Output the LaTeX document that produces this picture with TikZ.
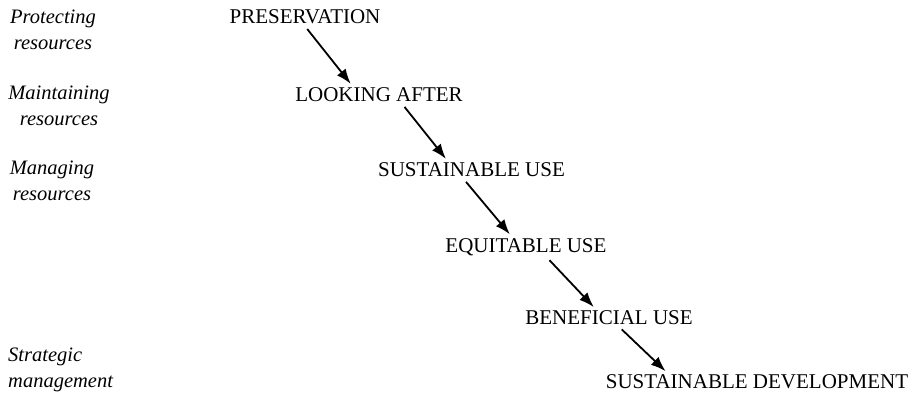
\documentclass[tikz,border=0pt]{standalone}
\usepackage{fontspec}
\setmainfont{Liberation Serif}
\usetikzlibrary{positioning,arrows.meta,calc}

\begin{document}
\begin{tikzpicture}[x=1pt, y=-1pt,
  stage/.style={inner sep=0pt, font=\fontsize{21}{25.5}\selectfont},
  level/.style={inner sep=0pt, font=\fontsize{20.5}{25.5}\selectfont\itshape},
  flow/.style={-{Latex[length=15pt,width=11pt]}, line width=1.8pt,
               shorten <=6pt, shorten >=5pt}
]
\useasboundingbox (0,0) rectangle (911,407);

\node[stage] (pres)   at (305,17)   {PRESERVATION};
\node[stage] (look)   at (379,95)   {LOOKING AFTER};
\node[stage] (sususe) at (471.5,170) {SUSTAINABLE USE};
\node[stage] (equ)    at (526,247)  {EQUITABLE USE};
\node[stage] (ben)    at (609,318)  {BENEFICIAL USE};
\node[stage] (susdev) at (757,382)  {SUSTAINABLE DEVELOPMENT};

\node[level, align=center] (prot)  at (53,30)  {Protecting\\resources};
\node[level, align=center] (maint) at (59,106) {Maintaining\\resources};
\node[level, align=center] (manag) at (52,181) {Managing\\resources};
\node[level, align=left, anchor=west] (strat) at (8,370) {Strategic\\management};

\draw[flow] ($(pres.south west)!0.49!(pres.south east)$)     -- ($(look.north west)!0.35!(look.north east)$);
\draw[flow] ($(look.south west)!0.63!(look.south east)$)     -- ($(sususe.north west)!0.38!(sususe.north east)$);
\draw[flow] ($(sususe.south west)!0.45!(sususe.south east)$) -- ($(equ.north west)!0.42!(equ.north east)$);
\draw[flow] ($(equ.south west)!0.62!(equ.south east)$)       -- ($(ben.north west)!0.43!(ben.north east)$);
\draw[flow] ($(ben.south west)!0.55!(ben.south east)$)       -- ($(susdev.north west)!0.21!(susdev.north east)$);
\end{tikzpicture}
\end{document}
